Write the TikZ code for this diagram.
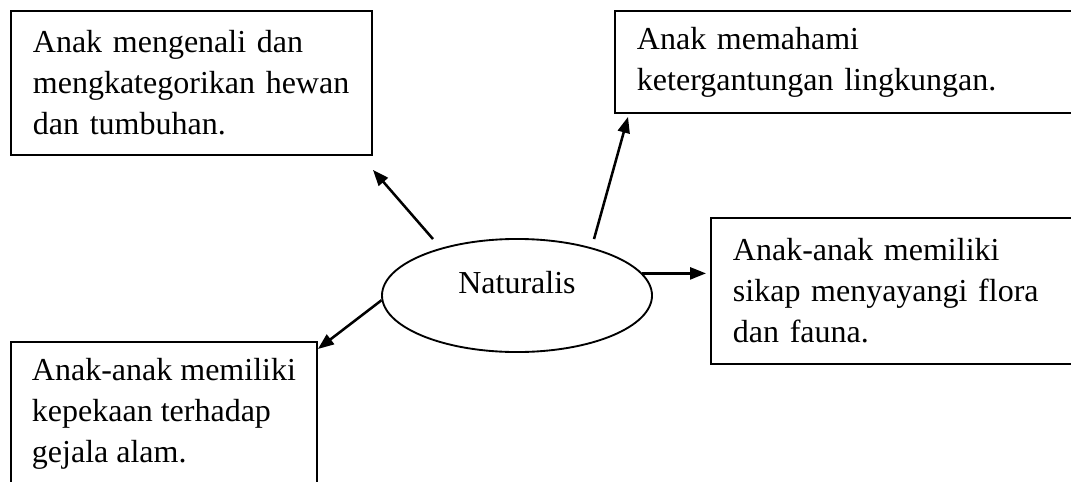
\documentclass[tikz,border=0pt]{standalone}
\usepackage{fontspec}
\setmainfont{Liberation Serif}
\usetikzlibrary{positioning, shapes.geometric, arrows.meta}

\begin{document}
\begin{tikzpicture}[x=0.375pt, y=-0.375pt,
  kotak/.style={rectangle, draw=black, line width=0.7pt, anchor=north west, align=left, inner xsep=8.25pt, inner ysep=0pt, font=\fontsize{12}{15.4}\selectfont},
  panah/.style={-{Triangle[length=6pt,width=4.5pt]}, line width=0.95pt},]
\useasboundingbox (0,0) rectangle (1071,481);
\clip (0,0) rectangle (1071,481);
%Nodes
\node[ellipse, draw=black, line width=0.7pt, minimum width=101.25pt, minimum height=42.4pt, inner sep=0pt, text depth=9.75pt, font=\fontsize{12}{15.4}\selectfont] (nat) at (517,295.5) {Naturalis};
\node[kotak, text width=118.9pt, minimum height=54pt] (hewan) at (10,10) {Anak mengenali dan\\ mengkategorikan hewan\\ dan tumbuhan.};
\node[kotak, text width=163.5pt, minimum height=38.25pt] (lingk) at (614,10) {Anak memahami\\ ketergantungan lingkungan.};
\node[kotak, text width=129.75pt, minimum height=54.75pt] (flora) at (710,217) {Anak-anak memiliki\\ sikap menyayangi flora\\ dan fauna.};
\node[kotak, inner xsep=0pt, minimum width=114.75pt, minimum height=54pt] (gejala) at (10,341) {Anak-anak memiliki\\ kepekaan terhadap\\ gejala alam.};

%Lines
\draw[panah] ([shift={(-84,1)}]nat.north) -- ([shift={(0,14)}]hewan.south east);
\draw[panah] ([shift={(77,1)}]nat.north) -- ([shift={(14,3)}]lingk.south west);
\draw[panah, shorten >=1.5pt] (nat.10) -- (nat.10 -| flora.west);
\draw[panah] (nat.182) -- ([shift={(0,8)}]gejala.north east);

\end{tikzpicture}
\end{document}
